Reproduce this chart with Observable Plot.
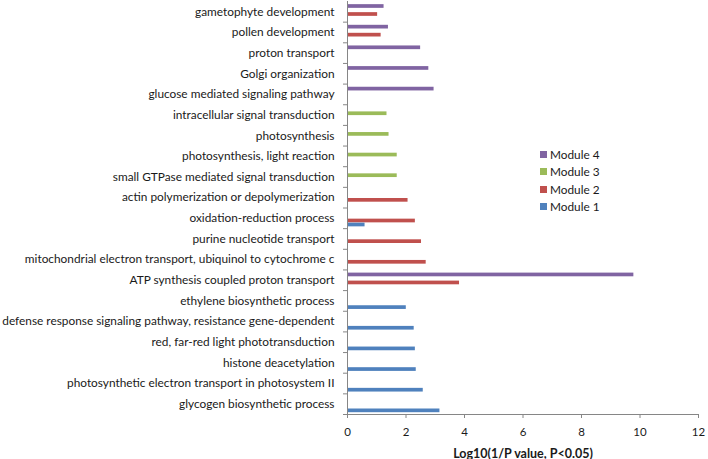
<!DOCTYPE html>
<html>
<head>
<meta charset="utf-8">
<script src="https://cdn.jsdelivr.net/npm/d3@7"></script>
<script src="https://cdn.jsdelivr.net/npm/@observablehq/plot@0.6"></script>
<style>
  html, body { margin: 0; padding: 0; background: #fff; }
  #wrap { position: relative; width: 708px; height: 459px; font-family: Lato, "Open Sans", sans-serif; }
  #wrap svg { display: block; }
  #legend { position: absolute; left: 540px; top: 146px; font-size: 11.8px; color: #1a1a1a; }
  #legend .item { display: flex; align-items: center; height: 17.3px; }
  #legend .sw { width: 7px; height: 7px; margin-right: 3px; }
</style>
</head>
<body>
<div id="wrap"><div id="legend"></div></div>
<script>
const categories = [
  "gametophyte development",
  "pollen development",
  "proton transport",
  "Golgi organization",
  "glucose mediated signaling pathway",
  "intracellular signal transduction",
  "photosynthesis",
  "photosynthesis, light reaction",
  "small GTPase mediated signal transduction",
  "actin polymerization or depolymerization",
  "oxidation-reduction process",
  "purine nucleotide transport",
  "mitochondrial electron transport, ubiquinol to cytochrome c",
  "ATP synthesis coupled proton transport",
  "ethylene biosynthetic process",
  "defense response signaling pathway, resistance gene-dependent",
  "red, far-red light phototransduction",
  "histone deacetylation",
  "photosynthetic electron transport in photosystem II",
  "glycogen biosynthetic process"
];
const module4 = [1.25, 1.40, 2.50, 2.78, 2.96, null, null, null, null, null, null, null, null, 9.79, null, null, null, null, null, null];
const module3 = [null, null, null, null, null, 1.35, 1.42, 1.70, 1.70, null, null, null, null, null, null, null, null, null, null, null];
const module2 = [1.03, 1.15, null, null, null, null, null, null, null, 2.07, 2.32, 2.53, 2.69, 3.83, null, null, null, null, null, null];
const module1 = [null, null, null, null, null, null, null, null, null, null, 0.60, null, null, null, 2.01, 2.28, 2.32, 2.35, 2.59, 3.16];
const moduleNames = ["Module 4", "Module 3", "Module 2", "Module 1"];
const moduleColors = ["#8064A2", "#9BBB59", "#C0504D", "#4F81BD"];
const xTicks = [0, 2, 4, 6, 8, 10, 12];
const xLabel = "Log10(1/P value, P<0.05)";

const series = [module4, module3, module2, module1];
const rows = [];
series.forEach((vals, k) => vals.forEach((v, i) => {
  if (v != null) rows.push({category: categories[i], module: moduleNames[k], value: v, k});
}));

const marginTop = 1, marginBottom = 45, H = 459;
const band = (H - marginTop - marginBottom) / categories.length;
const thick = 3.7;
const centers = [5, 9, 13, 17];

const barMarks = moduleNames.map((m, k) => Plot.barX(rows.filter(d => d.k === k), {
  y: "category", x: "value", x1: 0,
  fill: moduleColors[k],
  insetTop: centers[k] - thick / 2,
  insetBottom: band - centers[k] - thick / 2
}));

const chart = Plot.plot({
  width: 708, height: H,
  marginLeft: 347, marginRight: 10, marginTop, marginBottom,
  style: {fontFamily: "Lato, 'Open Sans', sans-serif", background: "#fff", color: "#1a1a1a"},
  x: {domain: [0, 12]},
  y: {domain: categories, padding: 0, round: false},
  marks: [
    ...barMarks,
    Plot.frame({anchor: "left", stroke: "#868686"}),
    Plot.frame({anchor: "bottom", stroke: "#868686"}),
    Plot.axisX({ticks: xTicks, tickSize: 4, tickPadding: 9, fontSize: 11.5, stroke: "#868686", label: null, tickFormat: d => String(d)}),
    Plot.axisY({tickSize: 0, tickPadding: 13, fontSize: 11.85, label: null}),
    Plot.axisY({tickSize: 4, text: null, dy: band / 2, stroke: "#868686", label: null}),
    Plot.text([xLabel], {frameAnchor: "bottom", lineAnchor: "middle", dy: 39, fontWeight: "bold", fontSize: 12.5, fill: "#1a1a1a"})
  ]
});
document.getElementById("wrap").prepend(chart);

const legend = document.getElementById("legend");
moduleNames.forEach((m, k) => {
  const it = document.createElement("div");
  it.className = "item";
  it.innerHTML = `<span class="sw" style="background:${moduleColors[k]}"></span><span>${m}</span>`;
  legend.appendChild(it);
});
</script>
</body>
</html>
